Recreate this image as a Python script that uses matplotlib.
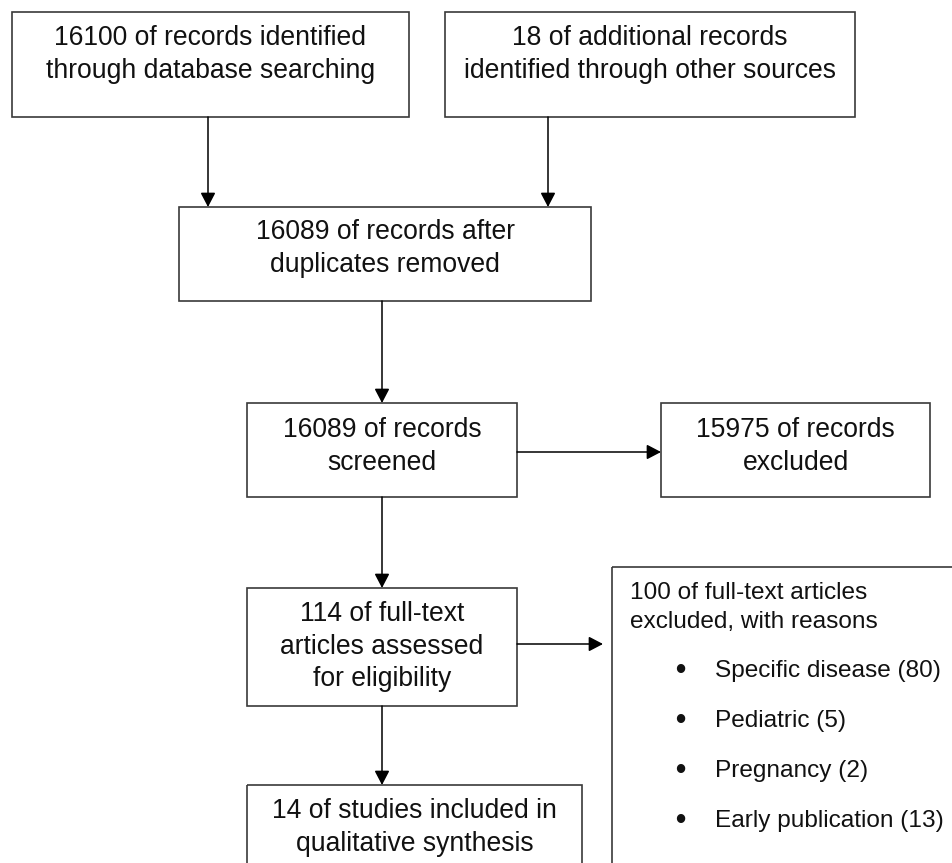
import matplotlib
matplotlib.use("Agg")
from matplotlib import pyplot as plt
from matplotlib.patches import Rectangle

plt.rcParams['font.family'] = ['Liberation Sans', 'DejaVu Sans']

# counts in the flow
n_database = 16100
n_other = 18
n_after_dup = 16089
n_screened = 16089
n_excluded = 15975
n_fulltext = 114
n_fulltext_excl = 100
n_included = 14

reasons = ['Specific disease', 'Pediatric', 'Pregnancy', 'Early publication']
reason_counts = [80, 5, 2, 13]

box_texts = [
    ['%d of records identified' % n_database, 'through database searching'],
    ['%d of additional records' % n_other, 'identified through other sources'],
    ['%d of records after' % n_after_dup, 'duplicates removed'],
    ['%d of records' % n_screened, 'screened'],
    ['%d of records' % n_excluded, 'excluded'],
    ['%d of full-text' % n_fulltext, 'articles assessed', 'for eligibility'],
    ['%d of studies included in' % n_included, 'qualitative synthesis'],
]

# box geometry in pixels: left, top, right, bottom, y of first text line
boxes = [
    (12, 12, 409, 117, 38),
    (445, 12, 855, 117, 38),
    (179, 207, 591, 301, 232),
    (247, 403, 517, 497, 430),
    (661, 403, 930, 497, 430),
    (247, 588, 517, 706, 614),
    (247, 785, 582, 900, 811),
]
line_step = 32.5
fs = 19.1
fs_side = 17.6
edge = '#3a3a3a'
txt = '#111111'

fig = plt.figure(figsize=(9.52, 8.63), dpi=100)
ax = fig.add_axes([0, 0, 1, 1])
ax.set_xlim(0, 952)
ax.set_ylim(863, 0)
ax.axis('off')

for (l, t, r, b, ty), lines in zip(boxes, box_texts):
    ax.add_patch(Rectangle((l, t), r - l, b - t, fill=False, ec=edge, lw=1.2))
    for i, s in enumerate(lines):
        ax.text((l + r) / 2, ty + i * line_step, s, ha='center', va='center',
                fontsize=fs, color=txt)

# exclusion reasons box
ax.add_patch(Rectangle((612, 567), 400, 400, fill=False, ec=edge, lw=1.2))
ax.text(630, 593, '%d of full-text articles' % n_fulltext_excl, ha='left',
        va='center', fontsize=fs_side, color=txt)
ax.text(630, 622, 'excluded, with reasons', ha='left', va='center',
        fontsize=fs_side, color=txt)
for i, (name, c) in enumerate(zip(reasons, reason_counts)):
    y = 671 + i * 50
    ax.text(680, y, '\u2022', ha='center', va='center', fontsize=21,
            fontweight='bold', color=txt)
    ax.text(715, y, '%s (%d)' % (name, c), ha='left', va='center',
            fontsize=fs_side, color=txt)

arrows = [
    ((208, 117), (208, 207)),
    ((548, 117), (548, 207)),
    ((382, 301), (382, 403)),
    ((517, 452), (661, 452)),
    ((382, 497), (382, 588)),
    ((517, 644), (603, 644)),
    ((382, 706), (382, 785)),
]
for start, end in arrows:
    ax.annotate('', xy=end, xytext=start,
                arrowprops=dict(arrowstyle='-|>,head_length=0.86,head_width=0.45',
                                lw=1.1, color='black', shrinkA=0, shrinkB=0,
                                mutation_scale=10))

fig.savefig('out.png', dpi=100)
